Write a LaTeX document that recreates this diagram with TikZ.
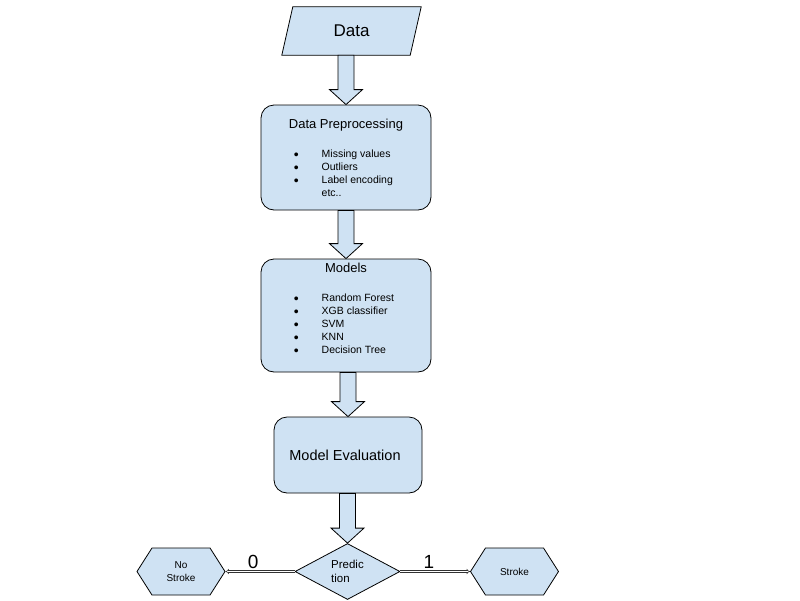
\documentclass[tikz,border=0pt]{standalone}
\usepackage{fontspec}
\setmainfont{Liberation Sans}
\usetikzlibrary{shapes.geometric,shapes.symbols,arrows.meta,positioning,calc,backgrounds}
\definecolor{boxblue}{HTML}{CFE2F3}

% block arrow from the bottom of #1 down to the top of #2
\newcommand{\blockarrow}[2]{%
  \draw[blockarr] ($(#2.north |- #1.south)+(-8,0)$) -- ($(#2.north)+(-8,-15)$)
    -- ($(#2.north)+(-16.5,-15)$) -- (#2.north) -- ($(#2.north)+(16.5,-15)$)
    -- ($(#2.north)+(8,-15)$) -- ($(#2.north |- #1.south)+(8,0)$) -- cycle;}
\newcommand{\bul}{\raisebox{-1.3pt}{\fontsize{14}{13}\selectfont\textbullet}}

\begin{document}
\begin{tikzpicture}[x=1pt,y=-1pt,
    shape box/.style={draw=black, fill=boxblue, line width=0.8pt},
    rbox/.style={shape box, rectangle, rounded corners=13pt},
    blockarr/.style={shape box, line join=miter},
    title/.style={font=\fontsize{13}{15}\selectfont, inner sep=0pt},
    items/.style={font=\fontsize{10.5}{13}\selectfont, inner sep=0pt},
    hexa/.style={shape box, signal, signal to=west and east, signal pointer angle=115,
      minimum width=88, minimum height=47, inner sep=0pt, align=center,
      font=\fontsize{10}{13}\selectfont},
    branch/.style={draw=black!80, double=white, double distance=1.3pt, line width=0.5pt, -{Implies}},
    digit/.style={font=\fontsize{19}{20}\selectfont, above, inner sep=3pt}]
\useasboundingbox (0,0) rectangle (800,600);

\node[minimum width=128, minimum height=48, inner sep=0pt,
  font=\fontsize{17}{20}\selectfont] (data) at (351.5,31) {Data};
\begin{scope}[on background layer]
  \draw[shape box] ($(data.south west)+(-5.5,0)$) -- ($(data.south east)+(-5.5,0)$)
    -- ($(data.north east)+(5.5,0)$) -- ($(data.north west)+(5.5,0)$) -- cycle;
\end{scope}

\node[rbox, minimum width=170, minimum height=105] (prep) at (346,157.5) {};
\node[title, anchor=base] (preptitle) at ($(prep.north)+(0,24)$) {Data Preprocessing};
\node[items, anchor=north west] (preplist) at ($(prep.north west)+(33,44)$) {%
  \begin{tabular}{@{}l@{\hspace{23pt}}l@{}}
    \bul & Missing values\\
    \bul & Outliers\\
    \bul & Label encoding\\
         & etc..
  \end{tabular}};

\node[rbox, minimum width=170, minimum height=113] (models) at (346,315.5) {};
\node[title, anchor=base] (modtitle) at ($(models.north)+(0,14)$) {Models};
\node[items, anchor=north west] (modlist) at ($(models.north west)+(33,34)$) {%
  \begin{tabular}{@{}l@{\hspace{23pt}}l@{}}
    \bul & Random Forest\\
    \bul & XGB classifier\\
    \bul & SVM\\
    \bul & KNN\\
    \bul & Decision Tree
  \end{tabular}};

\node[rbox, minimum width=148, minimum height=76, font=\fontsize{14.5}{17}\selectfont]
  (eval) at (348,455) {Model Evaluation\hspace*{6pt}};

\node[shape box, diamond, minimum width=105, minimum height=56, inner sep=0pt,
  align=left, font=\fontsize{11.5}{13.5}\selectfont] (pred) at (347.5,571.5) {Predic\\tion};

\node[hexa] (nostroke) at (181,571.5) {No\\Stroke};
\node[hexa] (stroke) at (514.5,571.5) {Stroke};

\blockarrow{data}{prep}
\blockarrow{prep}{models}
\blockarrow{models}{eval}
\blockarrow{eval}{pred}

\draw[branch] (pred.west) -- node[digit, pos=0.6] {0} (nostroke.east);
\draw[branch] (pred.east) -- node[digit, pos=0.41] {1} (stroke.west);
\end{tikzpicture}
\end{document}
